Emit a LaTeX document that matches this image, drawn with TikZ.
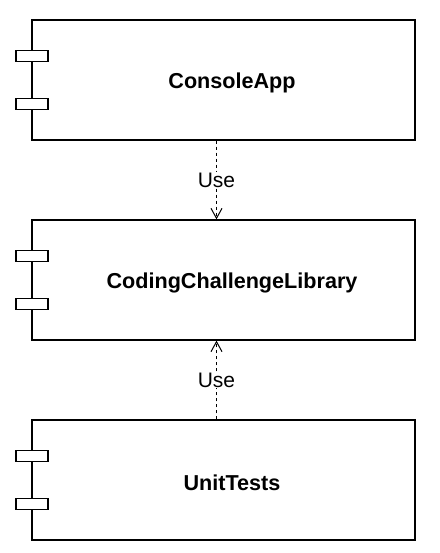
\documentclass[tikz,border=0pt]{standalone}
\usepackage{fontspec}
\setmainfont{Liberation Sans}
\usetikzlibrary{arrows.meta}

\begin{document}
\begin{tikzpicture}[
  x=1pt, y=-1pt,
  comp/.style={draw, line width=1.3pt, minimum width=383pt, minimum height=120pt, inner sep=0pt},
  tab/.style={draw, fill=white, line width=1.3pt, minimum width=32pt, minimum height=11pt, inner sep=0pt},
  cname/.style={font=\fontsize{21.6}{25}\selectfont\bfseries},
  use/.style={draw, dash pattern=on 3pt off 3pt, line width=1pt, -{Straight Barb[length=10pt,width=11pt]}},
  lbl/.style={fill=white, inner sep=1pt, font=\fontsize{21}{25}\selectfont}
  ]
  \useasboundingbox (0,0) rectangle (439,553);

  \node[comp] (ConsoleApp) at (223.5,80) {};
  \node[comp] (Library)    at (223.5,280) {};
  \node[comp] (UnitTests)  at (223.5,480) {};

  \foreach \comp in {ConsoleApp,Library,UnitTests} {
    \node[tab] (\comp T1) at ([shift={(-191.5,-24)}]\comp) {};
    \node[tab] (\comp T2) at ([shift={(-191.5,24)}]\comp) {};
  }

  \node[cname] (ConsoleAppLbl) at (232,83)  {ConsoleApp};
  \node[cname] (LibraryLbl)    at (232,283) {CodingChallengeLibrary};
  \node[cname] (UnitTestsLbl)  at (232,483) {UnitTests};

  \path (ConsoleApp.south) ++(-7,0) coordinate (CAout);
  \path (Library.north)    ++(-7,0) coordinate (CLin);
  \path (Library.south)    ++(-7,0) coordinate (CLout);
  \path (UnitTests.north)  ++(-7,0) coordinate (UTout);

  \path
  (CAout) edge[use] node[lbl] {Use} (CLin)
  (UTout) edge[use] node[lbl] {Use} (CLout)
  ;
\end{tikzpicture}
\end{document}
